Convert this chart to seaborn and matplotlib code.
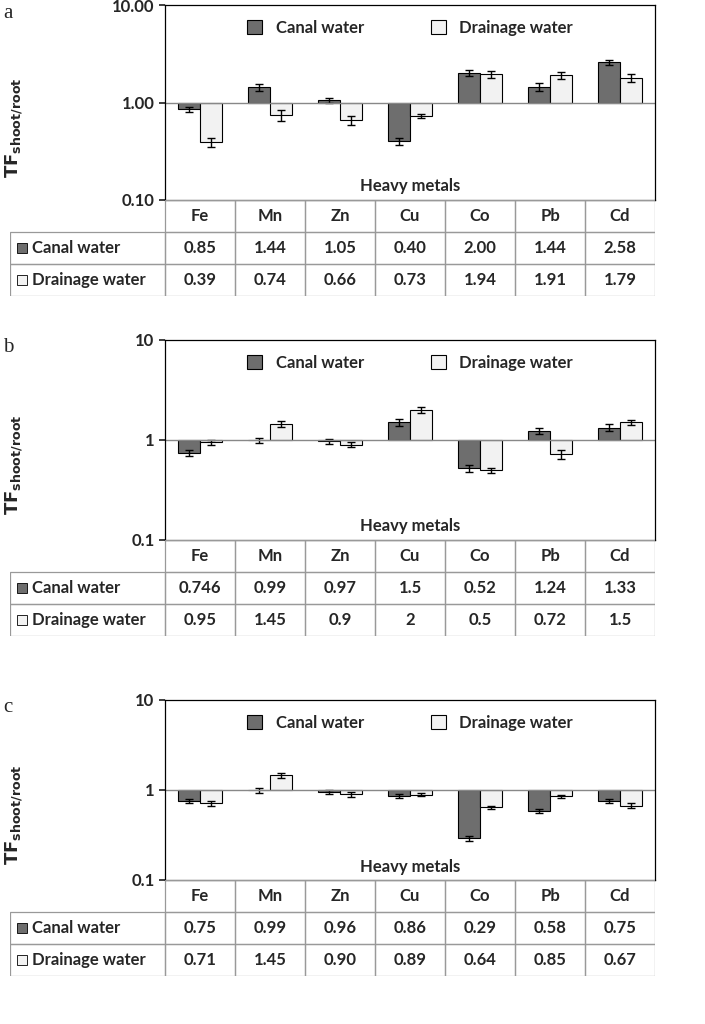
import matplotlib
matplotlib.use("Agg")
import matplotlib.pyplot as plt
import seaborn as sns
import numpy as np
from matplotlib.patches import Rectangle

sns.set_theme(style="white")
plt.rcParams["font.family"] = "Lato"

metals = ["Fe", "Mn", "Zn", "Cu", "Co", "Pb", "Cd"]
series = ["Canal water", "Drainage water"]

canal_a = [0.85, 1.44, 1.05, 0.40, 2.00, 1.44, 2.58]
drain_a = [0.39, 0.74, 0.66, 0.73, 1.94, 1.91, 1.79]
canal_a_err = [0.05, 0.12, 0.07, 0.03, 0.15, 0.14, 0.17]
drain_a_err = [0.04, 0.09, 0.07, 0.04, 0.14, 0.16, 0.17]
canal_a_txt = ["0.85", "1.44", "1.05", "0.40", "2.00", "1.44", "2.58"]
drain_a_txt = ["0.39", "0.74", "0.66", "0.73", "1.94", "1.91", "1.79"]

canal_b = [0.746, 0.99, 0.97, 1.5, 0.52, 1.24, 1.33]
drain_b = [0.95, 1.45, 0.9, 2.0, 0.5, 0.72, 1.5]
canal_b_err = [0.05, 0.05, 0.05, 0.12, 0.04, 0.09, 0.10]
drain_b_err = [0.05, 0.09, 0.05, 0.15, 0.03, 0.07, 0.10]
canal_b_txt = ["0.746", "0.99", "0.97", "1.5", "0.52", "1.24", "1.33"]
drain_b_txt = ["0.95", "1.45", "0.9", "2", "0.5", "0.72", "1.5"]

canal_c = [0.75, 0.99, 0.96, 0.86, 0.29, 0.58, 0.75]
drain_c = [0.71, 1.45, 0.90, 0.89, 0.64, 0.85, 0.67]
canal_c_err = [0.04, 0.06, 0.05, 0.04, 0.02, 0.03, 0.04]
drain_c_err = [0.04, 0.08, 0.06, 0.04, 0.02, 0.03, 0.04]
canal_c_txt = ["0.75", "0.99", "0.96", "0.86", "0.29", "0.58", "0.75"]
drain_c_txt = ["0.71", "1.45", "0.90", "0.89", "0.64", "0.85", "0.67"]

ticks_a = ["0.10", "1.00", "10.00"]
ticks_bc = ["0.1", "1", "10"]

DARK = "#6e6e6e"
LIGHT = "#f2f2f2"
W, H = 705, 1024
fig = plt.figure(figsize=(W / 100, H / 100), dpi=100)

def fx(px): return px / W
def fy(py): return 1 - py / H

panels = [
    ("a", 5, 200, canal_a, drain_a, canal_a_err, drain_a_err, canal_a_txt, drain_a_txt, ticks_a),
    ("b", 340, 540, canal_b, drain_b, canal_b_err, drain_b_err, canal_b_txt, drain_b_txt, ticks_bc),
    ("c", 700, 880, canal_c, drain_c, canal_c_err, drain_c_err, canal_c_txt, drain_c_txt, ticks_bc),
]
L, R = 165, 655
bw = 0.32
for lab, top, bot, cv, dv, ce, de, ct, dt, tl in panels:
    ax = fig.add_axes([fx(L), fy(bot), fx(R - L), (bot - top) / H])
    x = np.arange(len(metals))
    cv = np.array(cv); dv = np.array(dv)
    ax.bar(x - bw / 2, cv - 1, bottom=1, width=bw, color=DARK, edgecolor="black", lw=0.8, label=series[0])
    ax.bar(x + bw / 2, dv - 1, bottom=1, width=bw, color=LIGHT, edgecolor="black", lw=0.8, label=series[1])
    ax.errorbar(x - bw / 2, cv, yerr=ce, fmt="none", ecolor="black", capsize=3, lw=1)
    ax.errorbar(x + bw / 2, dv, yerr=de, fmt="none", ecolor="black", capsize=3, lw=1)
    ax.set_yscale("log")
    ax.set_ylim(0.1, 10)
    ax.set_xlim(-0.5, 6.5)
    ax.axhline(1, color="#888888", lw=1)
    ax.set_yticks([0.1, 1, 10])
    ax.set_yticklabels(tl, fontsize=12, fontweight="bold")
    ax.minorticks_off()
    ax.set_xticks([])
    ax.tick_params(axis="y", length=4, left=True, direction="out")
    for s in ax.spines.values():
        s.set_color("black"); s.set_linewidth(0.9)
    ax.text(0.5, 0.03, "Heavy metals", transform=ax.transAxes, ha="center", va="bottom",
            fontsize=12, fontweight="bold")
    ax.legend(loc="upper center", ncol=2, frameon=False, prop={"weight": "bold", "size": 12},
              handlelength=0.9, handleheight=0.9, columnspacing=4, bbox_to_anchor=(0.5, 1.0))
    fig.text(fx(14), fy((top + bot) / 2 + 25), r"$\mathbf{TF}_{\mathbf{shoot/root}}$", fontsize=13,
             rotation=90, ha="center", va="center")
    fig.text(fx(3), fy(top + 8), lab, fontsize=15, family="Liberation Serif", va="center")

    tax = fig.add_axes([fx(10), fy(bot + 96), fx(655 - 10), 96 / H])
    tax.set_xlim(10, 655); tax.set_ylim(bot + 96, bot); tax.axis("off")
    rows = [["", *metals], ["Canal water", *ct], ["Drainage water", *dt]]
    for r, row in enumerate(rows):
        y0 = bot + 32 * r
        for c, txt in enumerate(row):
            if c == 0:
                x0, x1 = 10, L
            else:
                x0 = L + 70 * (c - 1); x1 = x0 + 70
            if not (r == 0 and c == 0):
                tax.add_patch(Rectangle((x0, y0), x1 - x0, 32, fill=False, ec="#999999", lw=0.9))
            if c == 0 and r > 0:
                tax.add_patch(Rectangle((17, y0 + 11), 10, 10, fc=DARK if r == 1 else LIGHT, ec="black", lw=0.6))
                tax.text(32, y0 + 16, txt, ha="left", va="center", fontsize=12, fontweight="bold")
            elif c > 0:
                tax.text((x0 + x1) / 2, y0 + 16, txt, ha="center", va="center", fontsize=12, fontweight="bold")

fig.savefig("out.png", dpi=100)
